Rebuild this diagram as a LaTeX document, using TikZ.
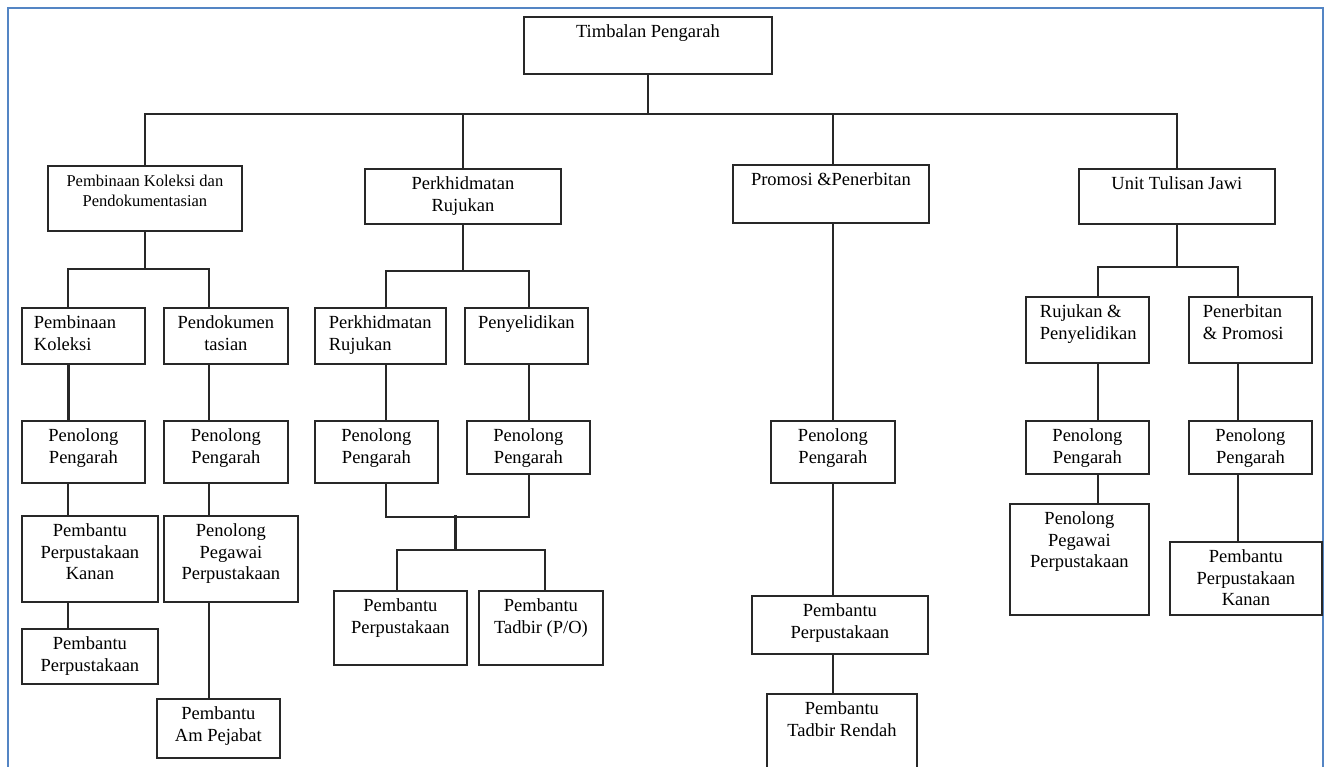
\documentclass[tikz,border=0pt]{standalone}
\usepackage{fontspec}
\setmainfont{Liberation Serif}
\definecolor{FrameBlue}{RGB}{84,133,196}
\definecolor{LineGrey}{RGB}{40,40,40}
\newcommand{\OrgText}[4][\centering]{\parbox[c][#3pt][t]{#2pt}{#1\rule{0pt}{21pt}#4}}
\tikzset{
  UnitStyle/.style = { draw = LineGrey, line width = 1.8pt, rectangle,
                       inner sep = 0pt, anchor = north west,
                       font = \fontsize{18.5}{21.5}\selectfont },
  LinkStyle/.style = { draw = LineGrey, line width = 1.8pt },
  BoldLink/.style  = { draw = LineGrey, line width = 3pt },
  FrameStyle/.style = { draw = FrameBlue, line width = 1.6pt } }

\begin{document}
\begin{tikzpicture}[x=1pt,y=-1pt]
  \useasboundingbox (0,0) rectangle (1329,767);
  \clip (0,0) rectangle (1329,767);
  \draw[FrameStyle] (8,780) -- (8,8) -- (1323,8) -- (1323,780);

  \node[UnitStyle](tp) at (523,16) {\OrgText{248}{57}{Timbalan Pengarah}};
  % bahagian
  \node[UnitStyle](pkp) at (47,165) {\OrgText{194}{65}{\fontsize{16.5}{20}\selectfont Pembinaan Koleksi dan\\Pendokumentasian}};
  \node[UnitStyle](pr) at (364,168) {\OrgText{196}{55}{Perkhidmatan\\Rujukan}};
  \node[UnitStyle](pp) at (732,164) {\OrgText{196}{58}{Promosi \&Penerbitan}};
  \node[UnitStyle](utj) at (1078,168) {\OrgText{196}{55}{Unit Tulisan Jawi}};
  % pembinaan koleksi
  \node[UnitStyle](pk) at (21,307) {\OrgText[\raggedright\leftskip=12pt\relax]{123}{56}{Pembinaan\\Koleksi}};
  \node[UnitStyle](pd) at (163,307) {\OrgText{124}{56}{Pendokumen\\tasian}};
  \node[UnitStyle](ppa) at (21,420) {\OrgText{123}{62}{Penolong\\Pengarah}};
  \node[UnitStyle](ppb) at (163,420) {\OrgText{124}{62}{Penolong\\Pengarah}};
  \node[UnitStyle](ppk) at (21,515) {\OrgText{136}{86}{Pembantu\\Perpustakaan\\Kanan}};
  \node[UnitStyle](ppg) at (163,515) {\OrgText{134}{86}{Penolong\\Pegawai\\Perpustakaan}};
  \node[UnitStyle](pbp) at (21,628) {\OrgText{136}{55}{Pembantu\\Perpustakaan}};
  \node[UnitStyle](pap) at (156,698) {\OrgText{123}{59}{Pembantu\\Am Pejabat}};
  % rujukan
  \node[UnitStyle](rpr) at (314,307) {\OrgText[\raggedright\leftskip=14pt\relax]{131}{56}{Perkhidmatan\\Rujukan}};
  \node[UnitStyle](rpy) at (464,307) {\OrgText{123}{56}{Penyelidikan}};
  \node[UnitStyle](rpa) at (314,420) {\OrgText{123}{62}{Penolong\\Pengarah}};
  \node[UnitStyle](rpb) at (466,420) {\OrgText{123}{53}{Penolong\\Pengarah}};
  \node[UnitStyle](rbp) at (333,590) {\OrgText{133}{74}{Pembantu\\Perpustakaan}};
  \node[UnitStyle](rbt) at (478,590) {\OrgText{124}{74}{Pembantu\\Tadbir (P/O)}};
  % promosi
  \node[UnitStyle](mpa) at (770,420) {\OrgText{124}{62}{Penolong\\Pengarah}};
  \node[UnitStyle](mbp) at (751,595) {\OrgText{176}{58}{Pembantu\\Perpustakaan}};
  \node[UnitStyle](mbt) at (766,693) {\OrgText{150}{95}{Pembantu\\Tadbir Rendah}};
  % jawi
  \node[UnitStyle](jrp) at (1025,296) {\OrgText[\raggedright\leftskip=14pt\relax]{123}{66}{Rujukan \&\\Penyelidikan}};
  \node[UnitStyle](jpp) at (1188,296) {\OrgText[\raggedright\leftskip=14pt\relax]{123}{66}{Penerbitan\\\& Promosi}};
  \node[UnitStyle](jpa) at (1025,420) {\OrgText{123}{53}{Penolong\\Pengarah}};
  \node[UnitStyle](jpb) at (1188,420) {\OrgText{123}{53}{Penolong\\Pengarah}};
  \node[UnitStyle](jpg) at (1009,503) {\OrgText{139}{111}{Penolong\\Pegawai\\Perpustakaan}};
  \node[UnitStyle](jbk) at (1169,541) {\OrgText{152}{73}{Pembantu\\Perpustakaan\\Kanan}};

  \coordinate (c1) at (68,0);
  \coordinate (c2) at (209,0);
  \coordinate (c3) at (386,0);
  \coordinate (c4) at (529,0);
  \coordinate (c5) at (397,0);
  \coordinate (c6) at (545,0);
  \coordinate (c7) at (833,0);
  \coordinate (c8) at (1098,0);
  \coordinate (c9) at (1238,0);

  \draw[LinkStyle] (tp.south) -- ++(0,39) coordinate (bus);
  \draw[LinkStyle] (pkp.north) |- (bus) -| (utj.north);
  \draw[LinkStyle] (pr.north) -- (pr.north |- bus);
  \draw[LinkStyle] (pp.north -| c7) -- (bus -| c7);

  \draw[LinkStyle] (pkp.south) -- ++(0,37) coordinate (b1);
  \draw[LinkStyle] (pk.north -| c1) |- (b1) -| (pd.north -| c2);
  \draw[BoldLink] (pk.south -| c1) -- (ppa.north -| c1);
  \draw[LinkStyle] (ppa.south -| c1) -- (ppk.north -| c1);
  \draw[LinkStyle] (ppk.south -| c1) -- (pbp.north -| c1);
  \draw[LinkStyle] (pd.south -| c2) -- (ppb.north -| c2);
  \draw[LinkStyle] (ppb.south -| c2) -- (ppg.north -| c2);
  \draw[LinkStyle] (ppg.south -| c2) -- (pap.north -| c2);

  \draw[LinkStyle] (pr.south) -- ++(0,46) coordinate (b2);
  \draw[LinkStyle] (rpr.north -| c3) |- (b2) -| (rpy.north -| c4);
  \draw[LinkStyle] (rpr.south -| c3) -- (rpa.north -| c3);
  \draw[LinkStyle] (rpy.south -| c4) -- (rpb.north -| c4);
  \draw[LinkStyle] (rpa.south -| c3) -- ++(0,33) coordinate (b3) -| (rpb.south -| c4);
  \coordinate (m1) at (455,515);
  \coordinate (m2) at (455,550);
  \draw[BoldLink] (m1) -- (m2);
  \draw[LinkStyle] (rbp.north -| c5) |- (m2) -| (rbt.north -| c6);

  \draw[LinkStyle] (pp.south -| c7) -- (mpa.north -| c7);
  \draw[LinkStyle] (mpa.south -| c7) -- (mbp.north -| c7);
  \draw[LinkStyle] (mbp.south -| c7) -- (mbt.north -| c7);

  \draw[LinkStyle] (utj.south) -- ++(0,42) coordinate (b4);
  \draw[LinkStyle] (jrp.north -| c8) |- (b4) -| (jpp.north -| c9);
  \draw[LinkStyle] (jrp.south -| c8) -- (jpa.north -| c8);
  \draw[LinkStyle] (jpa.south -| c8) -- (jpg.north -| c8);
  \draw[LinkStyle] (jpp.south -| c9) -- (jpb.north -| c9);
  \draw[LinkStyle] (jpb.south -| c9) -- (jbk.north -| c9);
\end{tikzpicture}
\end{document}
